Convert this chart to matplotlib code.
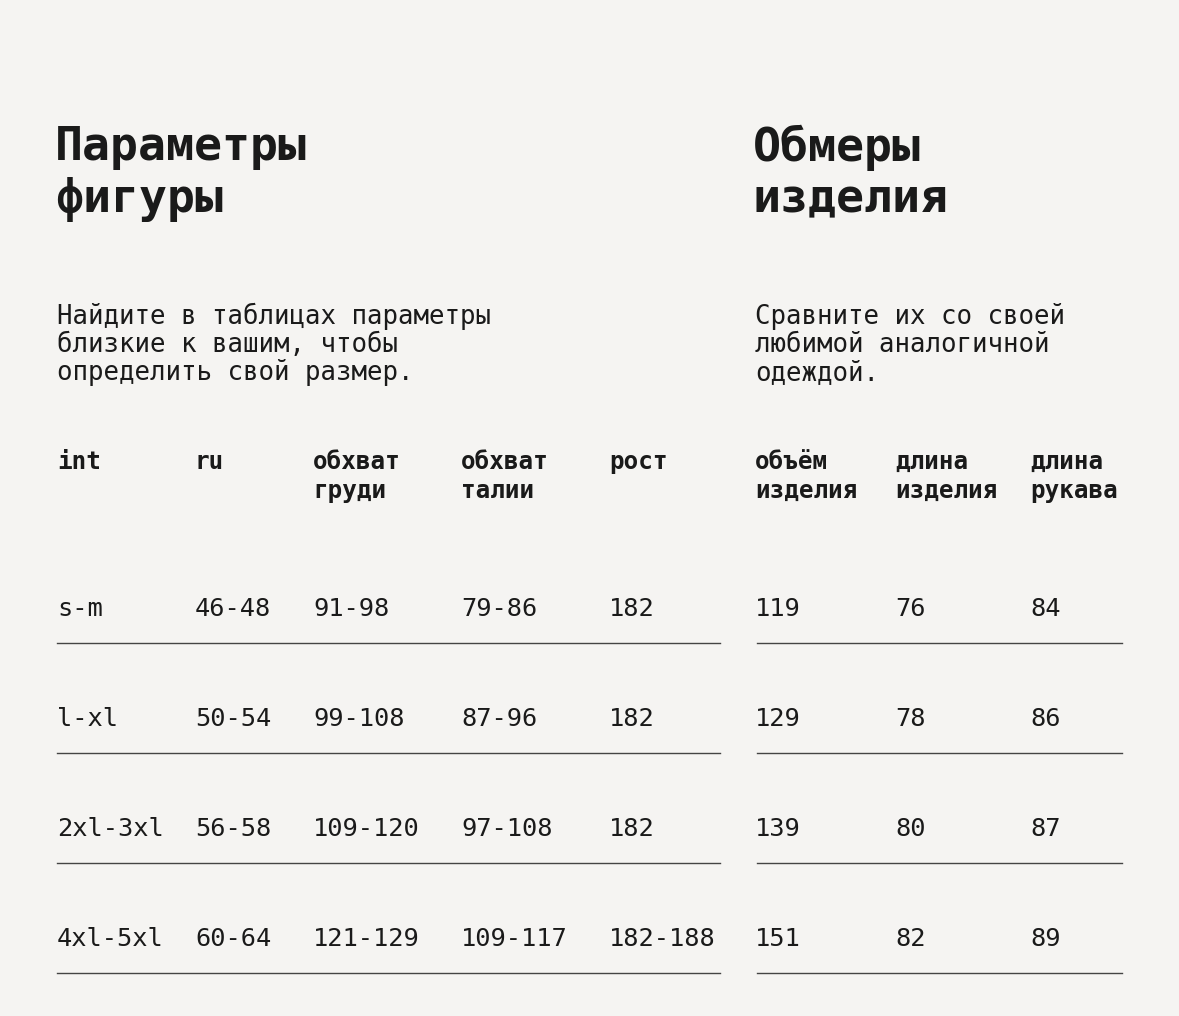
import matplotlib
matplotlib.use("Agg")
import matplotlib.pyplot as plt

left_title = ["Параметры", "фигуры"]
right_title = ["Обмеры", "изделия"]
left_desc = ["Найдите в таблицах параметры", "близкие к вашим, чтобы", "определить свой размер."]
right_desc = ["Сравните их со своей", "любимой аналогичной", "одеждой."]
left_headers = [["int"], ["ru"], ["обхват", "груди"], ["обхват", "талии"], ["рост"]]
right_headers = [["объём", "изделия"], ["длина", "изделия"], ["длина", "рукава"]]
int_sizes = ["s-m", "l-xl", "2xl-3xl", "4xl-5xl"]
ru_sizes = ["46-48", "50-54", "56-58", "60-64"]
chest = ["91-98", "99-108", "109-120", "121-129"]
waist = ["79-86", "87-96", "97-108", "109-117"]
height = ["182", "182", "182", "182-188"]
volume = ["119", "129", "139", "151"]
length = ["76", "78", "80", "82"]
sleeve = ["84", "86", "87", "89"]

bg = "#f5f4f2"
fg = "#1a1a1a"
mono = ["DejaVu Sans Mono"]

fig = plt.figure(figsize=(11.79, 10.16), dpi=100, facecolor=bg)
ax = fig.add_axes([0, 0, 1, 1])
ax.set_xlim(0, 1179); ax.set_ylim(1016, 0); ax.axis("off")
ax.set_facecolor(bg)

def block(x, lines, y0, dy, **kw):
    for i, s in enumerate(lines):
        ax.text(x, y0 + i * dy, s, va="center", ha="left", color=fg, family=mono, **kw)

block(55, left_title, 148, 52, fontsize=33.5, fontweight="bold")
block(753, right_title, 148, 52, fontsize=33.5, fontweight="bold")
block(57, left_desc, 316, 28.5, fontsize=18.5)
block(755, right_desc, 316, 28.5, fontsize=18.5)

lx = [57, 195, 313, 461, 609]
rx = [755, 895, 1030]
for x, h in zip(lx, left_headers):
    block(x, h, 462, 29, fontsize=17.5, fontweight="bold")
for x, h in zip(rx, right_headers):
    block(x, h, 462, 29, fontsize=17.5, fontweight="bold")

cols_l = [int_sizes, ru_sizes, chest, waist, height]
cols_r = [volume, length, sleeve]
for i in range(len(int_sizes)):
    y = 609 + 110 * i
    for x, c in zip(lx, cols_l):
        ax.text(x, y, c[i], va="center", ha="left", color=fg, family=mono, fontsize=18.3)
    for x, c in zip(rx, cols_r):
        ax.text(x, y, c[i], va="center", ha="left", color=fg, family=mono, fontsize=18.3)
    ax.plot([57, 720], [y + 34, y + 34], color="#444", lw=1)
    ax.plot([757, 1122], [y + 34, y + 34], color="#444", lw=1)

fig.savefig("out.png", dpi=100, facecolor=bg)
